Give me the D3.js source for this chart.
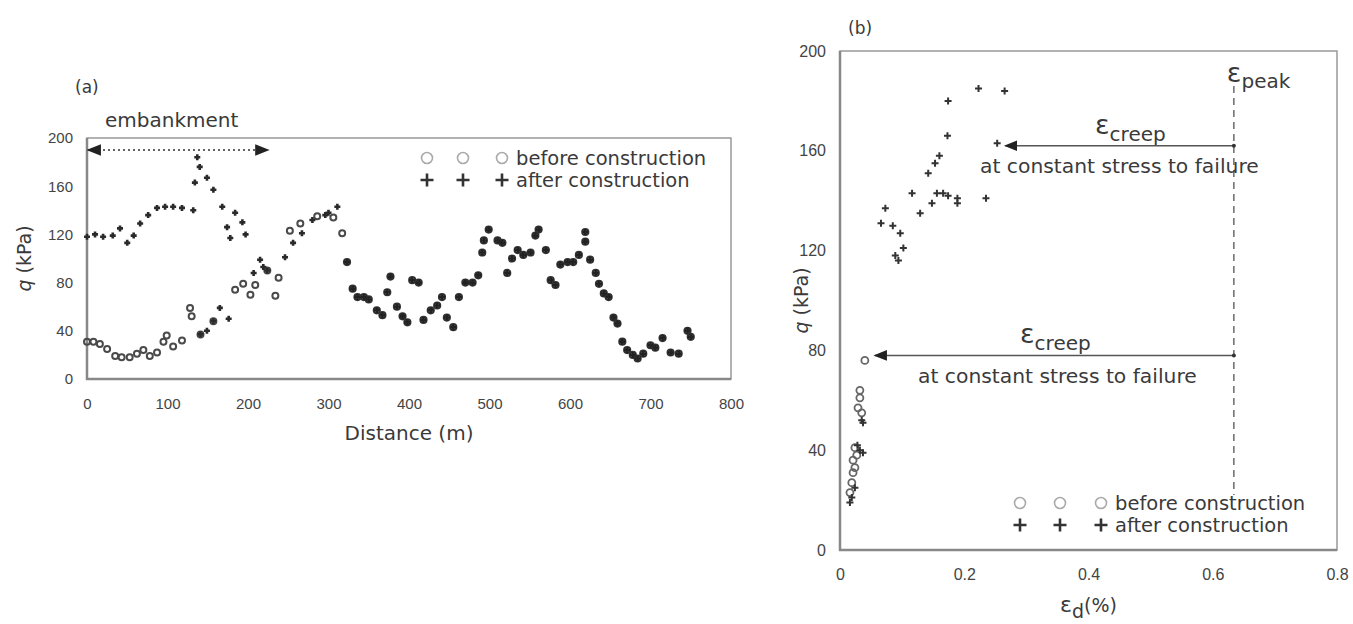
<!DOCTYPE html>
<html>
<head>
<meta charset="utf-8">
<script src="https://cdn.jsdelivr.net/npm/d3@7"></script>
<style>
  body { margin: 0; background: #fff; }
  svg { display: block; font-family: "DejaVu Sans", sans-serif; }
  .tick text { fill: #444; }
</style>
</head>
<body>
<svg id="chart" width="1353" height="624"></svg>
<script>
// ---- panel (a): q along the road, distance (m) ----
const aTicksX = [0, 100, 200, 300, 400, 500, 600, 700, 800];
const aTicksY = [0, 40, 80, 120, 160, 200];

// before construction (open circles)
const aBeforeDist = [0, 8, 16, 25, 35, 43, 53, 62, 70, 78, 87, 95, 99, 107, 118, 128, 130, 141, 157, 184, 194, 203, 209, 224, 234, 238, 252, 265, 286, 306, 317];
const aBeforeQ    = [31, 31, 29, 25, 19, 18, 18, 21, 24, 19, 22, 31, 36, 27, 32, 59, 52, 37, 48, 74, 79, 70, 78, 90, 69, 84, 123, 129, 135, 134, 121];

// after construction (crosses)
const aAfterDist = [0, 10, 20, 32, 41, 50, 58, 66, 76, 87, 97, 107, 118, 132, 134, 137, 140, 149, 157, 168, 174, 178, 184, 193, 197,
                    141, 149, 157, 165, 176, 207, 215, 219, 224, 246, 256, 267, 280, 296, 300, 311];
const aAfterQ    = [118, 120, 118, 119, 125, 113, 119, 129, 136, 142, 143, 143, 142, 140, 163, 184, 176, 167, 157, 143, 126, 117, 138, 130, 120,
                    37, 40, 48, 59, 50, 88, 99, 93, 90, 101, 113, 121, 132, 136, 138, 143];

// beyond the embankment both surveys coincide (drawn with both markers)
const aSharedDist = [323, 330, 336, 344, 350, 360, 367, 373, 377, 385, 392, 398, 404, 412, 418, 427, 435, 441, 447, 455, 462, 470, 479, 486,
                     491, 493, 499, 510, 516, 522, 528, 535, 542, 551, 557, 561, 570, 576, 582, 588, 597, 604, 611, 619, 619, 625, 632, 636,
                     642, 648, 654, 659, 665, 671, 678, 684, 691, 700, 706, 715, 725, 735, 746, 750];
const aSharedQ    = [97, 75, 68, 68, 66, 57, 53, 72, 85, 60, 52, 47, 82, 80, 49, 57, 61, 68, 51, 43, 68, 80, 80, 86,
                     105, 115, 124, 115, 113, 88, 100, 107, 103, 105, 119, 124, 107, 82, 78, 95, 97, 97, 103, 114, 122, 99, 88, 79,
                     71, 68, 51, 46, 31, 24, 20, 17, 21, 28, 26, 34, 22, 21, 40, 35];

// ---- panel (b): q vs deviatoric strain ----
const bTicksX = [0, 0.2, 0.4, 0.6, 0.8];
const bTicksY = [0, 40, 80, 120, 160, 200];

const bBeforeEps = [0.040, 0.032, 0.032, 0.029, 0.035, 0.027, 0.024, 0.021, 0.024, 0.021, 0.019, 0.016];
const bBeforeQ   = [76, 64, 61, 57, 55, 38, 41, 36, 33, 31, 27, 23];

const bAfterEps = [0.035, 0.037, 0.032, 0.037, 0.028, 0.024, 0.019, 0.016,
                   0.223, 0.265, 0.174, 0.173, 0.253, 0.160, 0.153, 0.142, 0.116, 0.156, 0.166, 0.174, 0.189, 0.189,
                   0.148, 0.235, 0.073, 0.129, 0.066, 0.085, 0.097, 0.102, 0.089, 0.094];
const bAfterQ   = [52, 51, 40, 39, 42, 25, 21, 19,
                   185, 184, 180, 166, 163, 158, 155, 151, 143, 143, 143, 142, 141, 139,
                   139, 141, 137, 135, 131, 130, 127, 121, 118, 116];

const epsPeak = 0.634;
const creepUpper = { from: 0.266, q: 162 };
const creepLower = { from: 0.056, q: 78 };

const svg = d3.select('#chart');
const textColor = '#3a3a3a';

const xa = d3.scaleLinear().domain([0, 800]).range([87, 731]);
const ya = d3.scaleLinear().domain([0, 200]).range([379, 138]);
const xb = d3.scaleLinear().domain([0, 0.8]).range([840, 1337]);
const yb = d3.scaleLinear().domain([0, 200]).range([550, 51]);

const crossPath = s => `M${-s},0H${s}M0,${-s}V${s}`;

// frame + axes for one panel
function drawFrame(x, y, ticksX, ticksY, fmtX, fontSize) {
  const [x0, x1] = x.range();
  const [y0, y1] = y.range();
  const g = svg.append('g');

  g.append('g')
    .attr('transform', `translate(0,${y0})`)
    .call(d3.axisBottom(x).tickValues(ticksX).tickSize(0).tickPadding(19).tickFormat(fmtX))
    .call(a => a.select('.domain').remove())
    .selectAll('text').style('font-size', fontSize + 'px');

  g.append('g')
    .attr('transform', `translate(${x0},0)`)
    .call(d3.axisLeft(y).tickValues(ticksY).tickSize(0).tickPadding(14))
    .call(a => a.select('.domain').remove())
    .selectAll('text').style('font-size', fontSize + 'px');

  g.append('rect')
    .attr('x', x0).attr('y', y1)
    .attr('width', x1 - x0).attr('height', y0 - y1)
    .attr('fill', 'none').attr('stroke', '#999').attr('stroke-width', 1.5);

  g.append('path')
    .attr('d', `M${x0},${y1}V${y0}H${x1}`)
    .attr('fill', 'none').attr('stroke', '#888').attr('stroke-width', 2.5);
  return g;
}

function drawCircles(xs, ys, x, y, r, color, w) {
  svg.append('g').selectAll('circle')
    .data(xs.map((d, i) => [d, ys[i]]))
    .join('circle')
    .attr('cx', d => x(d[0])).attr('cy', d => y(d[1]))
    .attr('r', r)
    .attr('fill', 'none').attr('stroke', color).attr('stroke-width', w);
}

function drawCrosses(xs, ys, x, y, s, color, w) {
  svg.append('g').selectAll('path')
    .data(xs.map((d, i) => [d, ys[i]]))
    .join('path')
    .attr('d', crossPath(s))
    .attr('transform', d => `translate(${x(d[0])},${y(d[1])})`)
    .attr('fill', 'none').attr('stroke', color).attr('stroke-width', w);
}

function drawLegend(cx, yTop, textX, fontSize) {
  const g = svg.append('g');
  cx.forEach(px => {
    g.append('circle').attr('cx', px).attr('cy', yTop).attr('r', 5.5)
      .attr('fill', 'none').attr('stroke', '#aaa').attr('stroke-width', 1.6);
    g.append('path').attr('d', crossPath(6.5))
      .attr('transform', `translate(${px},${yTop + 22})`)
      .attr('stroke', '#333').attr('stroke-width', 2.6);
  });
  g.append('text').attr('x', textX).attr('y', yTop).attr('dy', '0.36em')
    .style('font-size', fontSize + 'px').attr('fill', textColor).text('before construction');
  g.append('text').attr('x', textX).attr('y', yTop + 22).attr('dy', '0.36em')
    .style('font-size', fontSize + 'px').attr('fill', textColor).text('after construction');
}

function addText(x, y, str, size, extra) {
  const t = svg.append('text').attr('x', x).attr('y', y).attr('dy', '0.36em')
    .style('font-size', size + 'px').attr('fill', textColor).text(str);
  if (extra) extra(t);
  return t;
}

// arrow markers
const defs = svg.append('defs');
defs.append('marker')
  .attr('id', 'tri').attr('viewBox', '0 -5 10 10')
  .attr('refX', 9).attr('refY', 0)
  .attr('markerWidth', 9).attr('markerHeight', 9)
  .attr('orient', 'auto-start-reverse')
  .append('path').attr('d', 'M0,-4L10,0L0,4Z').attr('fill', '#222');

// ================= panel (a) =================
drawFrame(xa, ya, aTicksX, aTicksY, d3.format('d'), 15);

addText(75, 87, '(a)', 17);
addText(105, 120, 'embankment', 20);

svg.append('line')
  .attr('x1', xa(0) + 1).attr('x2', xa(225))
  .attr('y1', ya(190)).attr('y2', ya(190))
  .attr('stroke', '#333').attr('stroke-width', 1.6)
  .attr('stroke-dasharray', '2,3')
  .attr('marker-start', 'url(#tri)').attr('marker-end', 'url(#tri)');

drawCircles(aBeforeDist, aBeforeQ, xa, ya, 3, '#4a4a4a', 2);
drawCircles(aSharedDist, aSharedQ, xa, ya, 3, '#333', 2.2);
drawCrosses(aAfterDist, aAfterQ, xa, ya, 3, '#2a2a2a', 2.6);
drawCrosses(aSharedDist, aSharedQ, xa, ya, 3, '#222', 2.6);

drawLegend([427, 463, 502], 158, 516, 19.5);

svg.append('text')
  .attr('transform', `translate(24,${(ya(0) + ya(200)) / 2}) rotate(-90)`)
  .attr('text-anchor', 'middle').attr('dy', '0.36em')
  .style('font-size', '19px').attr('fill', textColor)
  .call(t => {
    t.append('tspan').style('font-style', 'italic').text('q');
    t.append('tspan').text(' (kPa)');
  });

addText((xa(0) + xa(800)) / 2, 433, 'Distance (m)', 20, t => t.attr('text-anchor', 'middle'));

// ================= panel (b) =================
drawFrame(xb, yb, bTicksX, bTicksY, d => d === 0 ? '0' : d3.format('.1f')(d), 16);

addText(848, 28, '(b)', 17);

// eps_peak dashed line
svg.append('line')
  .attr('x1', xb(epsPeak)).attr('x2', xb(epsPeak))
  .attr('y1', yb(186)).attr('y2', yb(22))
  .attr('stroke', '#555').attr('stroke-width', 1.3)
  .attr('stroke-dasharray', '7,5');

svg.append('text').attr('x', xb(epsPeak) - 7).attr('y', 72).attr('fill', textColor)
  .call(t => {
    t.append('tspan').style('font-size', '27px').attr('dy', '0.36em').text('ε');
    t.append('tspan').style('font-size', '20px').attr('dy', '0.3em').text('peak');
  });

[creepUpper, creepLower].forEach((c, i) => {
  const yLine = yb(c.q);
  svg.append('line')
    .attr('x1', xb(epsPeak)).attr('x2', xb(c.from))
    .attr('y1', yLine).attr('y2', yLine)
    .attr('stroke', '#555').attr('stroke-width', 1.5)
    .attr('marker-end', 'url(#tri)');
  svg.append('circle').attr('cx', xb(epsPeak)).attr('cy', yLine).attr('r', 2).attr('fill', '#333');

  const labelX = i === 0 ? 1095 : 1020;
  svg.append('text').attr('x', labelX).attr('y', yLine - 22).attr('fill', textColor)
    .call(t => {
      t.append('tspan').style('font-size', '27px').attr('dy', '0.36em').text('ε');
      t.append('tspan').style('font-size', '20px').attr('dy', '0.35em').text('creep');
    });
  const textX = i === 0 ? 980 : 918;
  addText(textX, yLine + 20, 'at constant stress to failure', 20.3);
});

drawCircles(bBeforeEps, bBeforeQ, xb, yb, 3.5, '#666', 1.8);
drawCrosses(bAfterEps, bAfterQ, xb, yb, 3.5, '#333', 2);

drawLegend([1020, 1060, 1101], 503, 1115, 19.5);

svg.append('text')
  .attr('transform', `translate(801,${(yb(0) + yb(200)) / 2}) rotate(-90)`)
  .attr('text-anchor', 'middle').attr('dy', '0.36em')
  .style('font-size', '19px').attr('fill', textColor)
  .call(t => {
    t.append('tspan').style('font-style', 'italic').text('q');
    t.append('tspan').text(' (kPa)');
  });

svg.append('text')
  .attr('x', (xb(0) + xb(0.8)) / 2).attr('y', 604)
  .attr('text-anchor', 'middle').attr('fill', textColor)
  .call(t => {
    t.append('tspan').style('font-size', '22px').attr('dy', '0.36em').text('ε');
    t.append('tspan').style('font-size', '19px').attr('dy', '0.3em').text('d');
    t.append('tspan').style('font-size', '19px').attr('dy', '-0.3em').text('(%)');
  });
</script>
</body>
</html>
